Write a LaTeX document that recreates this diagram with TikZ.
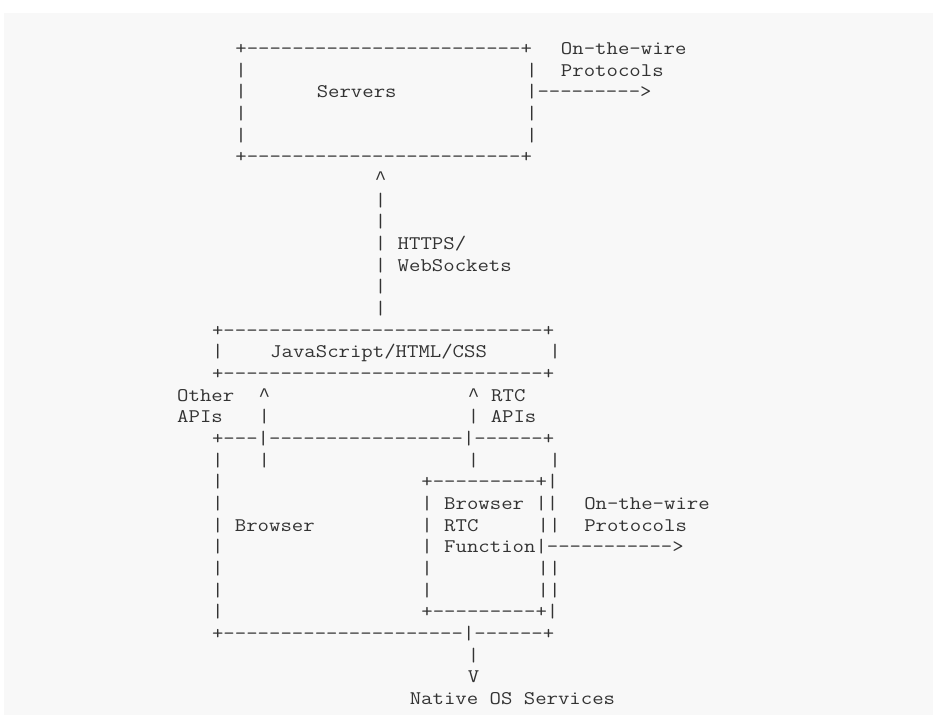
\documentclass[tikz,border=0pt]{standalone}
\usepackage{fontspec}
\setmonofont{Latin Modern Mono}[FakeStretch=1.15]
\newfontfamily\caretfont{Liberation Mono}
\newcommand\caret{{\caretfont\char94\relax}}
\begin{document}
\begin{tikzpicture}[x=11.63pt, y=-21.67pt,
  txt/.style={anchor=base west, inner sep=0pt, text=ink,
    font=\ttfamily\fontsize{19.26}{21.67}\selectfont}]
  \definecolor{ink}{HTML}{333333}
  \definecolor{papel}{HTML}{F8F8F8}
  \useasboundingbox[fill=white] (-177pt, 32.83pt) rectangle (756pt, -684.17pt);
  \fill[papel] (-173pt, 19.83pt) rectangle (756pt, -682.17pt);
  % Servers
  \node[txt] (srvtop) at (5,1) {+------------------------+};
  \node[txt] (wireA) at (33,1) {On-the-wire};
  \node[txt] (srvl2) at (5,2) {|};
  \node[txt] (srvr2) at (30,2) {|};
  \node[txt] (protA) at (33,2) {Protocols};
  \node[txt] (srvl3) at (5,3) {|};
  \node[txt] (srv) at (12,3) {Servers};
  \node[txt] (srvout) at (30,3) {|--------->};
  \node[txt] (srvl4) at (5,4) {|};
  \node[txt] (srvr4) at (30,4) {|};
  \node[txt] (srvl5) at (5,5) {|};
  \node[txt] (srvr5) at (30,5) {|};
  \node[txt] (srvbot) at (5,6) {+------------------------+};
  % HTTPS / WebSockets
  \node[txt] (upA) at (17,7) {\caret};
  \node[txt] (upA8) at (17,8) {|};
  \node[txt] (upA9) at (17,9) {|};
  \node[txt] (https) at (17,10) {| HTTPS/};
  \node[txt] (wsock) at (17,11) {| WebSockets};
  \node[txt] (upA12) at (17,12) {|};
  \node[txt] (upA13) at (17,13) {|};
  % JavaScript/HTML/CSS
  \node[txt] (jstop) at (3,14) {+----------------------------+};
  \node[txt] (jsl) at (3,15) {|};
  \node[txt] (js) at (8,15) {JavaScript/HTML/CSS};
  \node[txt] (jsr) at (32,15) {|};
  \node[txt] (jsbot) at (3,16) {+----------------------------+};
  % APIs
  \node[txt] (otherA) at (0,17) {Other};
  \node[txt] (upB) at (7,17) {\caret};
  \node[txt] (rtcA) at (25,17) {\caret};
  \node[txt] (rtcA2) at (27,17) {RTC};
  \node[txt] (otherB) at (0,18) {APIs};
  \node[txt] (upB18) at (7,18) {|};
  \node[txt] (rtcB) at (25,18) {| APIs};
  % Browser
  \node[txt] (brtop) at (3,19) {+---|-----------------|------+};
  \node[txt] (brl20) at (3,20) {|};
  \node[txt] (upB20) at (7,20) {|};
  \node[txt] (rtc20) at (25,20) {|};
  \node[txt] (brr20) at (32,20) {|};
  \node[txt] (brl21) at (3,21) {|};
  \node[txt] (fntop) at (21,21) {+---------+|};
  \node[txt] (brl22) at (3,22) {|};
  \node[txt] (fnA) at (21,22) {| Browser ||};
  \node[txt] (wireB) at (35,22) {On-the-wire};
  \node[txt] (br) at (3,23) {| Browser};
  \node[txt] (fnB) at (21,23) {| RTC};
  \node[txt] (fnr23) at (31,23) {||};
  \node[txt] (protB) at (35,23) {Protocols};
  \node[txt] (brl24) at (3,24) {|};
  \node[txt] (fnC) at (21,24) {| Function|----------->};
  \node[txt] (brl25) at (3,25) {|};
  \node[txt] (fnl25) at (21,25) {|};
  \node[txt] (fnr25) at (31,25) {||};
  \node[txt] (brl26) at (3,26) {|};
  \node[txt] (fnl26) at (21,26) {|};
  \node[txt] (fnr26) at (31,26) {||};
  \node[txt] (brl27) at (3,27) {|};
  \node[txt] (fnbot) at (21,27) {+---------+|};
  \node[txt] (brbot) at (3,28) {+---------------------|------+};
  % Native OS Services
  \node[txt] (down29) at (25,29) {|};
  \node[txt] (down) at (25,30) {V};
  \node[txt] (os) at (20,31) {Native OS Services};
\end{tikzpicture}
\end{document}
